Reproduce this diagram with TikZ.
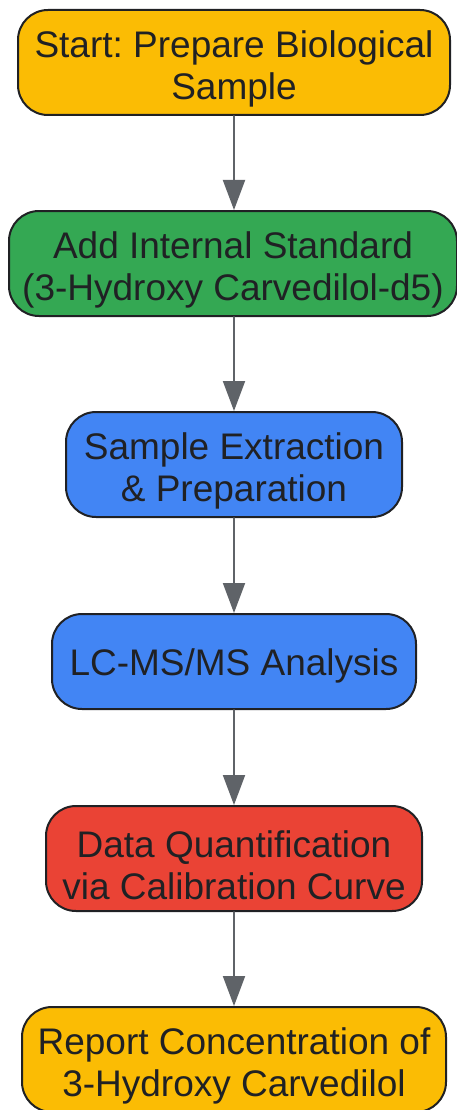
\documentclass[tikz,border=0pt]{standalone}
\usepackage{fontspec}
\setmainfont{Liberation Sans}
\frenchspacing
\usetikzlibrary{arrows.meta}
\definecolor{stepyellow}{HTML}{FBBC04}
\definecolor{stepgreen}{HTML}{34A853}
\definecolor{stepblue}{HTML}{4285F4}
\definecolor{stepred}{HTML}{EA4335}
\definecolor{edgegrey}{HTML}{5F6368}
\definecolor{inkdark}{HTML}{202124}

\begin{document}
\begin{tikzpicture}[x=1pt,y=1pt,line cap=round,line join=round,
  box/.style={draw=inkdark,line width=2pt,rounded corners=30pt,align=center,
    text=inkdark,minimum height=105pt,inner sep=0pt,
    font=\fontsize{37}{42}\selectfont},
  flow/.style={draw=edgegrey,line width=2pt,-{Triangle[length=30pt,width=22pt]}}]
\useasboundingbox (0,0) rectangle (457,-1110);
\node[box,fill=stepyellow,minimum width=432pt] (start) at (234,-62.5) {\rule{0pt}{40pt}Start: Prepare Biological\\Sample};
\node[box,fill=stepgreen,minimum width=448pt] (addis) at (233,-263.5) {\rule{0pt}{40pt}Add Internal Standard\\(3-Hydroxy Carvedilol-d5)};
\node[box,fill=stepblue,minimum width=336pt] (extract) at (234,-464.5) {\rule{0pt}{40pt}Sample Extraction\\\& Preparation};
\node[box,fill=stepblue,minimum width=364pt,minimum height=95pt] (lcms) at (234,-661.5) {\rule{0pt}{36pt}LC-MS/MS Analysis};
\node[box,fill=stepred,minimum width=376pt] (quant) at (234,-858.5) {\rule{0pt}{40pt}Data Quantification\\via Calibration Curve};
\node[box,fill=stepyellow,minimum width=424pt] (report) at (234,-1059.5) {\rule{0pt}{40pt}Report Concentration of\\3-Hydroxy Carvedilol};
% arrows
\draw[flow] (start.south) -- (start.south |- addis.north);
\draw[flow] (addis.south -| extract.north) -- (extract.north);
\draw[flow] (extract.south) -- (lcms.north);
\draw[flow] (lcms.south) -- (quant.north);
\draw[flow] (quant.south) -- (report.north);
\end{tikzpicture}
\end{document}
